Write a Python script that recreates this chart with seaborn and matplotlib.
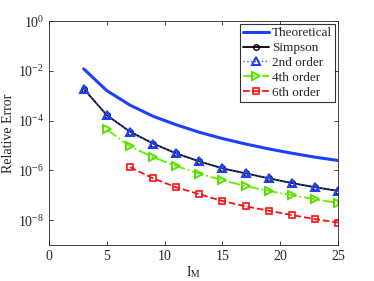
import numpy as np
import pandas as pd
import matplotlib
matplotlib.use("Agg")
import matplotlib.pyplot as plt
import seaborn as sns

# values (odd I_M values)
im_all = [3, 5, 7, 9, 11, 13, 15, 17, 19, 21, 23, 25]
theoretical = [1.2e-2, 1.6e-3, 4.2e-4, 1.5e-4, 6.8e-5, 3.4e-5, 1.9e-5, 1.15e-5, 7.3e-6, 4.9e-6, 3.4e-6, 2.5e-6]
simpson = [1.9e-3, 1.65e-4, 3.6e-5, 1.2e-5, 4.8e-6, 2.3e-6, 1.2e-6, 7.6e-7, 4.8e-7, 3.1e-7, 2.1e-7, 1.5e-7]
order2 = [1.9e-3, 1.65e-4, 3.6e-5, 1.2e-5, 4.8e-6, 2.3e-6, 1.2e-6, 7.6e-7, 4.8e-7, 3.1e-7, 2.1e-7, 1.5e-7]
im_4 = [5, 7, 9, 11, 13, 15, 17, 19, 21, 23, 25]
order4 = [4.4e-5, 9.3e-6, 3.4e-6, 1.5e-6, 7.4e-7, 4.0e-7, 2.35e-7, 1.5e-7, 1.0e-7, 6.9e-8, 4.9e-8]
im_6 = [7, 9, 11, 13, 15, 17, 19, 21, 23, 25]
order6 = [1.35e-6, 4.8e-7, 2.1e-7, 1.1e-7, 5.9e-8, 3.6e-8, 2.4e-8, 1.6e-8, 1.1e-8, 8.0e-9]

sns.set_style("ticks")
plt.rcParams['font.family'] = ['Liberation Serif', 'DejaVu Serif']
plt.rcParams['mathtext.fontset'] = 'stix'

fig = plt.figure(figsize=(3.74, 2.81), dpi=100)
ax = fig.add_axes([0.131, 0.128, 0.773, 0.797])

sns.lineplot(x=im_all, y=theoretical, ax=ax, color='#1f3fff', lw=2.2, label='Theoretical')
sns.lineplot(x=im_all, y=simpson, ax=ax, color='black', lw=1.3, marker='o', ms=4,
             markerfacecolor='none', markeredgecolor='black', mew=1.0, label='Simpson')
sns.lineplot(x=im_all, y=order2, ax=ax, color='#3355ff', lw=1.0, ls=':', marker='^', ms=6,
             markerfacecolor='none', markeredgecolor='#1f3fff', mew=1.5, label='2nd order')
sns.lineplot(x=im_4, y=order4, ax=ax, color='#66ee00', lw=1.3, ls='-.', marker='>', ms=6,
             markerfacecolor='none', markeredgecolor='#55e000', mew=1.4, label='4th order')
sns.lineplot(x=im_6, y=order6, ax=ax, color='#ff1010', lw=1.3, ls='--', marker='s', ms=4.5,
             markerfacecolor='none', markeredgecolor='#ff1010', mew=1.2, label='6th order')

ax.set_yscale('log')
ax.set_xlim(0, 25)
ax.set_ylim(1e-9, 1)
ax.set_xticks([0, 5, 10, 15, 20, 25])
ax.set_yticks([1e0, 1e-2, 1e-4, 1e-6, 1e-8])
ax.yaxis.set_minor_locator(matplotlib.ticker.NullLocator())
ax.tick_params(direction='in', which='both', top=True, right=True, labelsize=10, length=3, width=0.6)
for s in ax.spines.values():
    s.set_linewidth(0.6)
ax.set_xlabel(r'I$_\mathrm{M}$', fontsize=10, labelpad=1)
ax.set_ylabel('Relative Error', fontsize=10, labelpad=2)

leg = ax.legend(loc='upper right', fontsize=9.5, frameon=True, fancybox=False,
                edgecolor='black', borderpad=0.25, labelspacing=0.2, handlelength=2.0,
                handletextpad=0.2, borderaxespad=0.2)
leg.get_frame().set_linewidth(0.8)

fig.savefig('out.png', dpi=100)
